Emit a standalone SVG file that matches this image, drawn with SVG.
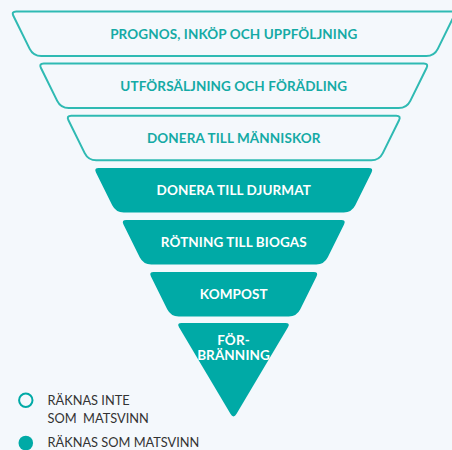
<svg xmlns="http://www.w3.org/2000/svg" width="452" height="450" viewBox="0 0 452 450">
<style>
.out{fill:#f4f8fc;stroke:#2fbab3;stroke-width:2}
.fill{fill:#00aaa6}
.t{font-family:Lato,"Open Sans","Liberation Sans",sans-serif;font-weight:bold;font-size:13.5px;letter-spacing:0.1px;text-anchor:middle}
.tl{fill:#14aaa5}
.tw{fill:#ffffff}
.lg{font-family:Lato,"Open Sans","Liberation Sans",sans-serif;font-size:12.8px;fill:#333333;white-space:pre}
</style>
<rect width="452" height="450" fill="#f4f8fc"/>
<g id="band1" transform="translate(233.75,11.5)">
<path class="out" d="M -217.5,0 H 217.5 Q 222.5,0 220.28,4.48 L 204.05,37.33 Q 200.5,44.5 192.5,44.5 H -192.5 Q -200.5,44.5 -204.05,37.33 L -220.28,4.48 Q -222.5,0 -217.5,0 Z"/>
<text class="t tl" x="0" y="27.5">PROGNOS, INKÖP OCH UPPFÖLJNING</text>
</g>
<g id="band2" transform="translate(233.75,63.5)">
<path class="out" d="M -190,0 H 190 Q 195,0 192.78,4.48 L 176.55,37.33 Q 173,44.5 165,44.5 H -165 Q -173,44.5 -176.55,37.33 L -192.78,4.48 Q -195,0 -190,0 Z"/>
<text class="t tl" x="0" y="27.2">UTFÖRSÄLJNING OCH FÖRÄDLING</text>
</g>
<g id="band3" transform="translate(233.75,115.75)">
<path class="out" d="M -162.5,0 H 162.5 Q 167.5,0 165.28,4.48 L 149.05,37.33 Q 145.5,44.5 137.5,44.5 H -137.5 Q -145.5,44.5 -149.05,37.33 L -165.28,4.48 Q -167.5,0 -162.5,0 Z"/>
<text class="t tl" x="0" y="27.2">DONERA TILL MÄNNISKOR</text>
</g>
<g id="band4" transform="translate(233.75,168)">
<path class="fill" d="M -135,0 H 135 Q 140,0 137.78,4.48 L 121.55,37.33 Q 118,44.5 110,44.5 H -110 Q -118,44.5 -121.55,37.33 L -137.78,4.48 Q -140,0 -135,0 Z"/>
<text class="t tw" x="0" y="27.2">DONERA TILL DJURMAT</text>
</g>
<g id="band5" transform="translate(233.75,220)">
<path class="fill" d="M -107.5,0 H 107.5 Q 112.5,0 110.28,4.48 L 94.05,37.33 Q 90.5,44.5 82.5,44.5 H -82.5 Q -90.5,44.5 -94.05,37.33 L -110.28,4.48 Q -112.5,0 -107.5,0 Z"/>
<text class="t tw" x="0" y="26.7">RÖTNING TILL BIOGAS</text>
</g>
<g id="band6" transform="translate(233.75,272)">
<path class="fill" d="M -80,0 H 80 Q 85,0 82.78,4.48 L 66.55,37.33 Q 63,44.5 55,44.5 H -55 Q -63,44.5 -66.55,37.33 L -82.78,4.48 Q -85,0 -80,0 Z"/>
<text class="t tw" x="0" y="27">KOMPOST</text>
</g>
<g id="band7" transform="translate(233.5,323)">
<path class="fill" d="M -52,0 H 52 Q 57,0 54.45,4.3 L 3.07,90.84 Q 0,96 -3.07,90.84 L -54.45,4.3 Q -57,0 -52,0 Z"/>
<text class="t tw" x="0" y="22">FÖR-</text>
<text class="t tw" x="0" y="37">BRÄNNING</text>
</g>
<g id="legend">
<circle cx="25.8" cy="400.2" r="6.7" fill="none" stroke="#00aaa6" stroke-width="2"/>
<text class="lg" x="47.5" y="405">RÄKNAS INTE</text>
<text class="lg" x="47.5" y="423.3">SOM  MATSVINN</text>
<circle cx="25.8" cy="443" r="7.3" fill="#00aaa6"/>
<text class="lg" x="47.5" y="447">RÄKNAS SOM MATSVINN</text>
</g>
</svg>
